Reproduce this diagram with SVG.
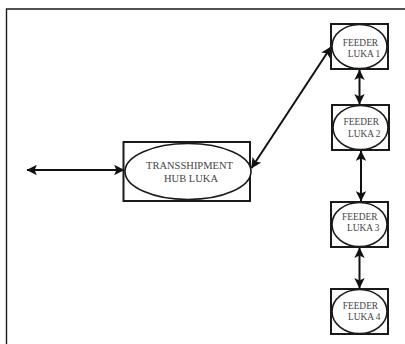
<svg xmlns="http://www.w3.org/2000/svg" width="405" height="344" viewBox="0 0 405 344">
  <style>
    .frame { fill: none; stroke: #1a1a1a; stroke-width: 1.4; }
    .box { fill: #fff; stroke: #1a1a1a; stroke-width: 2; }
    .oval { fill: #fff; stroke: #1a1a1a; stroke-width: 1.6; }
    .lbl { font-family: "Liberation Serif", "Times New Roman", serif; fill: #444; }
    .hub { font-size: 10.5px; }
    .feed { font-size: 9.4px; }
    .link { fill: none; stroke: #111; stroke-width: 2; marker-start: url(#head); marker-end: url(#head); }
  </style>
  <defs>
    <marker id="head" viewBox="0 0 10 10" refX="9.5" refY="5" markerWidth="5.6" markerHeight="5.2" markerUnits="strokeWidth" orient="auto-start-reverse">
      <path d="M0,0 L10,5 L0,10 L2.2,5 Z" fill="#111"/>
    </marker>
  </defs>

  <!-- page frame -->
  <path class="frame" d="M6.5,344 V9 H405"/>

  <!-- connectors -->
  <g id="connectors">
    <line class="link" x1="27" y1="170" x2="124" y2="170"/>
    <line class="link" x1="251.5" y1="168" x2="331" y2="47"/>
    <line class="link" x1="359.5" y1="70" x2="359.5" y2="104"/>
    <line class="link" x1="361" y1="151" x2="361" y2="201"/>
    <line class="link" x1="359.5" y1="248" x2="359.5" y2="288"/>
  </g>

  <!-- hub port -->
  <g id="hub">
    <rect class="box" x="123.5" y="142" width="126.5" height="59"/>
    <ellipse class="oval" cx="188" cy="171.5" rx="63" ry="28"/>
    <text class="lbl hub" x="189.5" y="168.5" text-anchor="middle">TRANSSHIPMENT</text>
    <text class="lbl hub" x="191" y="181.5" text-anchor="middle">HUB LUKA</text>
  </g>

  <!-- feeder ports -->
  <g id="feeder1">
    <rect class="box" x="331" y="24" width="57" height="45"/>
    <ellipse class="oval" cx="359.5" cy="46.5" rx="27.5" ry="22"/>
    <text class="lbl feed" x="342.7" y="46">FEEDER</text>
    <text class="lbl feed" x="347.7" y="57">LUKA 1</text>
  </g>
  <g id="feeder2">
    <rect class="box" x="332" y="105" width="57" height="45"/>
    <ellipse class="oval" cx="360.5" cy="127.5" rx="27.5" ry="22"/>
    <text class="lbl feed" x="343.5" y="124.5">FEEDER</text>
    <text class="lbl feed" x="348" y="136.5">LUKA 2</text>
  </g>
  <g id="feeder3">
    <rect class="box" x="331" y="202" width="57" height="45"/>
    <ellipse class="oval" cx="359.5" cy="224.5" rx="27.5" ry="22"/>
    <text class="lbl feed" x="342" y="219.5">FEEDER</text>
    <text class="lbl feed" x="347" y="231">LUKA 3</text>
  </g>
  <g id="feeder4">
    <rect class="box" x="331" y="289" width="57" height="45"/>
    <ellipse class="oval" cx="359.5" cy="311.5" rx="27.5" ry="22"/>
    <text class="lbl feed" x="342.7" y="308.5">FEEDER</text>
    <text class="lbl feed" x="348" y="320">LUKA 4</text>
  </g>
</svg>
